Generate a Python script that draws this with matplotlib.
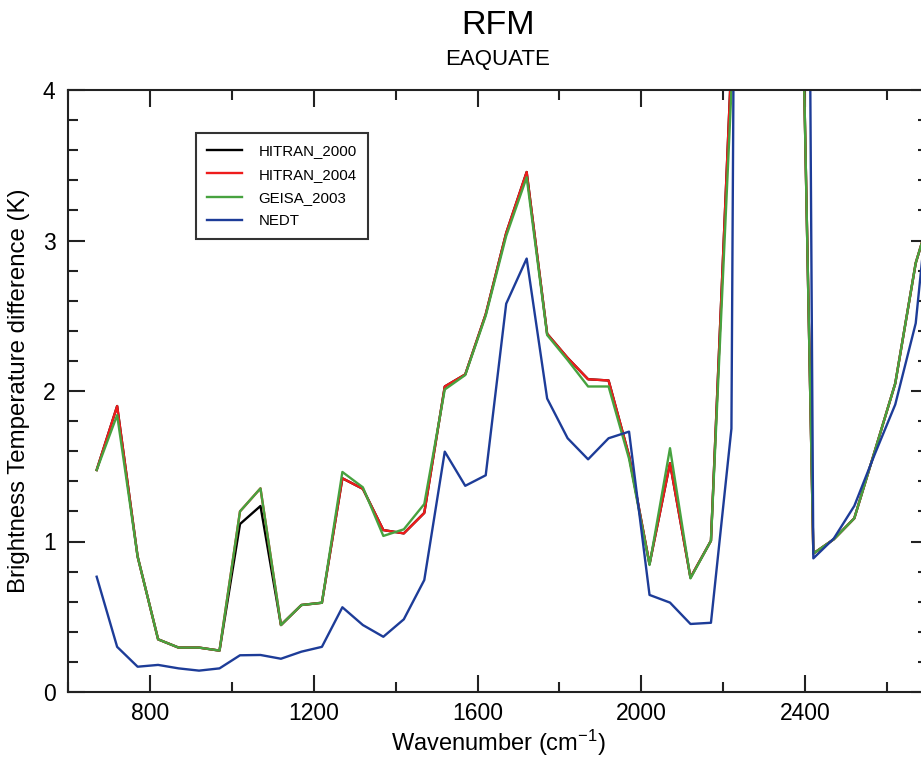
import matplotlib
matplotlib.use("Agg")
import matplotlib.pyplot as plt
from matplotlib.ticker import MultipleLocator

plt.rcParams['font.family'] = ['Liberation Sans', 'DejaVu Sans']
plt.rcParams['mathtext.default'] = 'regular'

# wavenumber grid (cm-1)
wavenumber = [670, 720, 770, 820, 870, 920, 970, 1020, 1070, 1120,
              1170, 1220, 1270, 1320, 1370, 1420, 1470, 1520, 1570, 1620,
              1670, 1720, 1770, 1820, 1870, 1920, 1970, 2020, 2070, 2120,
              2170, 2220, 2270, 2320, 2370, 2420, 2470, 2520, 2570, 2620,
              2670, 2720]

hitran_2000 = [1.475, 1.90, 0.90, 0.35, 0.295, 0.295, 0.275, 1.116, 1.236, 0.445,
               0.578, 0.593, 1.42, 1.35, 1.076, 1.054, 1.19, 2.03, 2.11, 2.51,
               3.05, 3.455, 2.38, 2.22, 2.078, 2.07, 1.57, 0.85, 1.52, 0.76,
               1.005, 4.2, 9.8, 12.0, 7.9, 0.92, 1.015, 1.154, 1.60, 2.05,
               2.85, 3.3]

hitran_2004 = [1.475, 1.90, 0.90, 0.35, 0.295, 0.295, 0.275, 1.20, 1.353, 0.445,
               0.578, 0.593, 1.42, 1.35, 1.076, 1.054, 1.19, 2.03, 2.11, 2.51,
               3.05, 3.455, 2.38, 2.22, 2.078, 2.07, 1.57, 0.85, 1.52, 0.76,
               1.005, 4.2, 9.8, 12.0, 7.9, 0.92, 1.015, 1.154, 1.60, 2.05,
               2.85, 3.3]

geisa_2003 = [1.475, 1.84, 0.90, 0.35, 0.295, 0.295, 0.275, 1.20, 1.353, 0.445,
              0.578, 0.593, 1.462, 1.36, 1.037, 1.081, 1.249, 2.01, 2.106, 2.50,
              3.03, 3.42, 2.372, 2.206, 2.03, 2.03, 1.55, 0.844, 1.62, 0.755,
              1.005, 4.0, 9.5, 12.0, 7.9, 0.92, 1.015, 1.154, 1.60, 2.05,
              2.85, 3.3]

nedt = [0.766, 0.30, 0.168, 0.18, 0.157, 0.142, 0.157, 0.244, 0.246, 0.221,
        0.268, 0.30, 0.563, 0.445, 0.367, 0.483, 0.744, 1.597, 1.37, 1.44,
        2.58, 2.88, 1.95, 1.686, 1.546, 1.686, 1.73, 0.645, 0.594, 0.452,
        0.46, 1.75, 25.0, 30.0, 22.0, 0.888, 1.02, 1.236, 1.58, 1.91,
        2.45, 3.8]

series = [('HITRAN_2000', hitran_2000, 'black'),
          ('HITRAN_2004', hitran_2004, '#ee1c1c'),
          ('GEISA_2003', geisa_2003, '#47a23f'),
          ('NEDT', nedt, '#1d3c98')]

fig = plt.figure(figsize=(9.21, 7.60), dpi=100)
ax = fig.add_axes([68 / 921, 1 - 692 / 760, 860 / 921, 602 / 760])

for name, vals, col in series:
    ax.plot(wavenumber, vals, color=col, lw=1.7, label=name)

ax.set_xlim(600, 2700)
ax.set_ylim(0, 4)
ax.xaxis.set_major_locator(MultipleLocator(400))
ax.xaxis.set_minor_locator(MultipleLocator(200))
ax.yaxis.set_major_locator(MultipleLocator(1))
ax.yaxis.set_minor_locator(MultipleLocator(0.2))
ax.set_xticks([800, 1200, 1600, 2000, 2400])

ax.tick_params(which='both', direction='in', top=True, right=True,
               width=1.5, labelsize=16.5, color='#222222')
ax.tick_params(which='major', length=12)
ax.tick_params(which='minor', length=7)
ax.tick_params(axis='x', pad=7)
ax.tick_params(axis='y', pad=9)
for sp in ax.spines.values():
    sp.set_linewidth(1.5)
    sp.set_color('#222222')

ax.set_xlabel('Wavenumber (cm$^{-1}$)', fontsize=17, labelpad=2)
ax.set_ylabel('Brightness Temperature difference (K)', fontsize=17.3, labelpad=9)

fig.text(498 / 921, 1 - 26 / 760, 'RFM', ha='center', va='center', fontsize=24.5)
fig.text(498 / 921, 1 - 59 / 760, 'EAQUATE', ha='center', va='center', fontsize=16)

leg = ax.legend(loc='upper left', bbox_to_anchor=((196 - 68) / 860, (692 - 133) / 602),
                fontsize=10.8, frameon=True, fancybox=False, handlelength=2.3,
                handletextpad=1.1, borderpad=0.75, labelspacing=0.62, borderaxespad=0)
leg.get_frame().set_edgecolor('black')
leg.get_frame().set_linewidth(1.5)

fig.savefig('out.png', dpi=100)
